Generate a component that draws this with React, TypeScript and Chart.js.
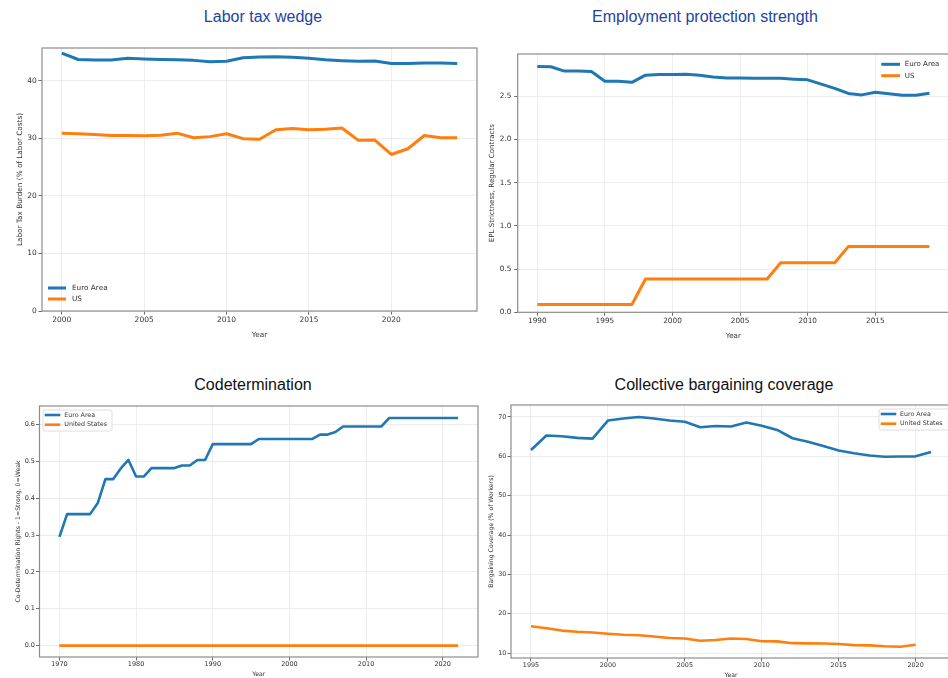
import React, { useEffect, useRef } from "react";
import { Chart, registerables } from "chart.js";

Chart.register(...registerables);

const BLUE = "#1f77b4";
const ORANGE = "#ff7f0e";

// ---------- Panel 1: Labor tax wedge ----------
const taxYears = [2000, 2001, 2002, 2003, 2004, 2005, 2006, 2007, 2008, 2009, 2010, 2011, 2012, 2013, 2014, 2015, 2016, 2017, 2018, 2019, 2020, 2021, 2022, 2023, 2024];
const taxEuro = [44.8, 43.7, 43.6, 43.6, 43.9, 43.8, 43.7, 43.65, 43.55, 43.3, 43.4, 44.0, 44.15, 44.2, 44.1, 43.9, 43.65, 43.5, 43.4, 43.45, 43.0, 43.0, 43.1, 43.1, 43.0];
const taxUS = [30.9, 30.8, 30.65, 30.5, 30.5, 30.45, 30.55, 30.9, 30.1, 30.3, 30.8, 29.95, 29.85, 31.5, 31.7, 31.5, 31.6, 31.8, 29.65, 29.7, 27.2, 28.2, 30.5, 30.1, 30.1];
const taxXTicks = [2000, 2005, 2010, 2015, 2020];
const taxYTicks = [0, 10, 20, 30, 40];

// ---------- Panel 2: Employment protection strength ----------
const eplYears = [1990, 1991, 1992, 1993, 1994, 1995, 1996, 1997, 1998, 1999, 2000, 2001, 2002, 2003, 2004, 2005, 2006, 2007, 2008, 2009, 2010, 2011, 2012, 2013, 2014, 2015, 2016, 2017, 2018, 2019];
const eplEuro = [2.843, 2.84, 2.79, 2.792, 2.785, 2.672, 2.672, 2.66, 2.743, 2.752, 2.752, 2.755, 2.742, 2.722, 2.71, 2.71, 2.707, 2.707, 2.707, 2.697, 2.689, 2.64, 2.59, 2.532, 2.515, 2.546, 2.528, 2.512, 2.512, 2.535];
const eplUS = [0.09, 0.09, 0.09, 0.09, 0.09, 0.09, 0.09, 0.09, 0.385, 0.385, 0.385, 0.385, 0.385, 0.385, 0.385, 0.385, 0.385, 0.385, 0.574, 0.574, 0.574, 0.574, 0.574, 0.76, 0.76, 0.76, 0.76, 0.76, 0.76, 0.76];
const eplXTicks = [1990, 1995, 2000, 2005, 2010, 2015];
const eplYTicks = [0, 0.5, 1.0, 1.5, 2.0, 2.5];

// ---------- Panel 3: Codetermination ----------
const codYears = [1970, 1971, 1972, 1973, 1974, 1975, 1976, 1977, 1978, 1979, 1980, 1981, 1982, 1983, 1984, 1985, 1986, 1987, 1988, 1989, 1990, 1991, 1992, 1993, 1994, 1995, 1996, 1997, 1998, 1999, 2000, 2001, 2002, 2003, 2004, 2005, 2006, 2007, 2008, 2009, 2010, 2011, 2012, 2013, 2014, 2015, 2016, 2017, 2018, 2019, 2020, 2021, 2022];
const codEuro = [0.295, 0.357, 0.357, 0.357, 0.357, 0.387, 0.452, 0.452, 0.481, 0.504, 0.459, 0.459, 0.482, 0.482, 0.482, 0.482, 0.489, 0.489, 0.504, 0.504, 0.547, 0.547, 0.547, 0.547, 0.547, 0.547, 0.561, 0.561, 0.561, 0.561, 0.561, 0.561, 0.561, 0.561, 0.573, 0.573, 0.58, 0.595, 0.595, 0.595, 0.595, 0.595, 0.595, 0.618, 0.618, 0.618, 0.618, 0.618, 0.618, 0.618, 0.618, 0.618, 0.618];
const codUS = [0, 0, 0, 0, 0, 0, 0, 0, 0, 0, 0, 0, 0, 0, 0, 0, 0, 0, 0, 0, 0, 0, 0, 0, 0, 0, 0, 0, 0, 0, 0, 0, 0, 0, 0, 0, 0, 0, 0, 0, 0, 0, 0, 0, 0, 0, 0, 0, 0, 0, 0, 0, 0];
const codXTicks = [1970, 1980, 1990, 2000, 2010, 2020];
const codYTicks = [0, 0.1, 0.2, 0.3, 0.4, 0.5, 0.6];

// ---------- Panel 4: Collective bargaining coverage ----------
const cbYears = [1995, 1996, 1997, 1998, 1999, 2000, 2001, 2002, 2003, 2004, 2005, 2006, 2007, 2008, 2009, 2010, 2011, 2012, 2013, 2014, 2015, 2016, 2017, 2018, 2019, 2020, 2021];
const cbEuro = [61.6, 65.3, 65.1, 64.7, 64.5, 69.1, 69.6, 70.0, 69.6, 69.1, 68.8, 67.4, 67.7, 67.6, 68.6, 67.8, 66.7, 64.6, 63.7, 62.6, 61.5, 60.8, 60.2, 59.9, 59.95, 60.0, 61.1];
const cbUSYears = [1995, 1996, 1997, 1998, 1999, 2000, 2001, 2002, 2003, 2004, 2005, 2006, 2007, 2008, 2009, 2010, 2011, 2012, 2013, 2014, 2015, 2016, 2017, 2018, 2019, 2020];
const cbUS = [16.8, 16.3, 15.7, 15.4, 15.2, 14.9, 14.65, 14.5, 14.2, 13.8, 13.7, 13.1, 13.3, 13.7, 13.55, 13.0, 12.95, 12.5, 12.45, 12.4, 12.3, 12.0, 11.95, 11.7, 11.6, 12.1];
const cbXTicks = [1995, 2000, 2005, 2010, 2015, 2020];
const cbYTicks = [10, 20, 30, 40, 50, 60, 70];

type Box = { left: number; top: number; width: number; height: number };
type Area = { left: number; top: number; right: number; bottom: number };
type Series = { label: string; xs: number[]; ys: number[]; color: string };
type LegendSpec = {
  x1: number; x2: number; ys: number[]; textX: number; font: number;
  frame?: { x: number; y: number; w: number; h: number };
};
type PanelSpec = {
  title: string; titleColor: string; titleCenter: number; titleTop: number;
  canvas: Box; area: Area;
  xMin: number; xMax: number; yMin: number; yMax: number;
  xTicks: number[]; yTicks: number[]; yFmt: (v: number) => string;
  yTitle: string; yTitleX: number; xTitleY: number;
  tickFont: number; axisFont: number; xTickPad: number; yTickPad: number;
  lineWidth: number; series: Series[]; legend: LegendSpec;
};

const FONT = "'DejaVu Sans', sans-serif";
const TICK_LEN = 3.5;

function Panel({ spec }: { spec: PanelSpec }) {
  const ref = useRef<HTMLCanvasElement | null>(null);
  useEffect(() => {
    const s = spec;
    const c = s.canvas;
    const yWidth = s.area.left - c.left;
    const xHeight = c.top + c.height - s.area.bottom;
    const axisLH = s.axisFont * 1.2;

    const framePlugin = {
      id: "frame",
      afterDatasetsDraw(chart: any) {
        const { ctx, chartArea: a } = chart;
        ctx.save();
        ctx.strokeStyle = "#8c8c8c";
        ctx.lineWidth = 1.2;
        ctx.strokeRect(a.left, a.top, a.right - a.left, a.bottom - a.top);
        ctx.restore();
      },
    };
    const legendPlugin = {
      id: "mplLegend",
      afterDraw(chart: any) {
        const ctx = chart.ctx;
        const L = s.legend;
        ctx.save();
        if (L.frame) {
          ctx.beginPath();
          ctx.roundRect(L.frame.x - c.left, L.frame.y - c.top, L.frame.w, L.frame.h, 2);
          ctx.fillStyle = "rgba(255,255,255,0.8)";
          ctx.fill();
          ctx.strokeStyle = "#d6d6d6";
          ctx.lineWidth = 0.8;
          ctx.stroke();
        }
        chart.data.datasets.forEach((ds: any, i: number) => {
          const y = L.ys[i] - c.top;
          ctx.beginPath();
          ctx.moveTo(L.x1 - c.left, y);
          ctx.lineTo(L.x2 - c.left, y);
          ctx.strokeStyle = ds.borderColor;
          ctx.lineWidth = s.lineWidth;
          ctx.lineCap = "butt";
          ctx.stroke();
          ctx.fillStyle = "#333333";
          ctx.font = `${L.font}px ${FONT}`;
          ctx.textBaseline = "middle";
          ctx.textAlign = "left";
          ctx.fillText(ds.label, L.textX - c.left, y);
        });
        ctx.restore();
      },
    };

    const chart = new Chart(ref.current as HTMLCanvasElement, {
      type: "line",
      data: {
        datasets: s.series.map((se) => ({
          label: se.label,
          data: se.xs.map((x, i) => ({ x, y: se.ys[i] })),
          borderColor: se.color,
          backgroundColor: se.color,
          borderWidth: s.lineWidth,
          pointRadius: 0,
          tension: 0,
          fill: false,
          borderJoinStyle: "round",
        })),
      },
      options: {
        animation: false,
        responsive: false,
        maintainAspectRatio: false,
        events: [],
        layout: {
          padding: {
            left: 0,
            top: s.area.top - c.top,
            right: c.left + c.width - s.area.right,
            bottom: 0,
          },
        },
        plugins: {
          legend: { display: false },
          title: { display: false },
          tooltip: { enabled: false },
        },
        scales: {
          x: {
            type: "linear",
            min: s.xMin,
            max: s.xMax,
            afterBuildTicks: (scale: any) => {
              scale.ticks = s.xTicks.map((v) => ({ value: v }));
            },
            afterFit: (scale: any) => {
              scale.height = xHeight;
            },
            grid: { color: "#e8e8e8", lineWidth: 0.8, tickLength: TICK_LEN, tickColor: "#444", drawTicks: true },
            border: { display: false },
            ticks: {
              autoSkip: false,
              maxRotation: 0,
              padding: s.xTickPad,
              color: "#333",
              font: { family: FONT, size: s.tickFont },
              callback: (v: any) => String(v),
            },
            title: {
              display: true,
              text: "Year",
              color: "#333",
              font: { family: FONT, size: s.axisFont },
              padding: { top: 0, bottom: c.top + c.height - s.xTitleY - axisLH / 2 },
            },
          },
          y: {
            type: "linear",
            min: s.yMin,
            max: s.yMax,
            afterBuildTicks: (scale: any) => {
              scale.ticks = s.yTicks.map((v) => ({ value: v }));
            },
            afterFit: (scale: any) => {
              scale.width = yWidth;
            },
            grid: { color: "#e8e8e8", lineWidth: 0.8, tickLength: TICK_LEN, tickColor: "#444", drawTicks: true },
            border: { display: false },
            ticks: {
              autoSkip: false,
              padding: s.yTickPad,
              color: "#333",
              font: { family: FONT, size: s.tickFont },
              callback: (v: any) => s.yFmt(Number(v)),
            },
            title: {
              display: true,
              text: s.yTitle,
              color: "#333",
              font: { family: FONT, size: s.axisFont },
              padding: { top: s.yTitleX - c.left - axisLH / 2, bottom: 0 },
            },
          },
        },
      } as any,
      plugins: [framePlugin, legendPlugin],
    });
    return () => chart.destroy();
  }, [spec]);

  return (
    <>
      <div
        style={{
          position: "absolute",
          left: spec.titleCenter - 200,
          top: spec.titleTop,
          width: 400,
          textAlign: "center",
          fontFamily: "'Liberation Sans', Arial, sans-serif",
          fontSize: 16,
          lineHeight: "16px",
          color: spec.titleColor,
          whiteSpace: "nowrap",
        }}
      >
        {spec.title}
      </div>
      <canvas
        ref={ref}
        width={spec.canvas.width}
        height={spec.canvas.height}
        style={{
          position: "absolute",
          left: spec.canvas.left,
          top: spec.canvas.top,
          width: spec.canvas.width,
          height: spec.canvas.height,
        }}
      />
    </>
  );
}

const fmtInt = (v: number) => String(Math.round(v));
const fmt1 = (v: number) => v.toFixed(1);

const panels: PanelSpec[] = [
  {
    title: "Labor tax wedge", titleColor: "#1c44a6", titleCenter: 263, titleTop: 8.5,
    canvas: { left: 0, top: 40, width: 480, height: 305 },
    area: { left: 42, top: 48, right: 477, bottom: 311 },
    xMin: 1998.8, xMax: 2025.2, yMin: 0, yMax: 45.7,
    xTicks: taxXTicks, yTicks: taxYTicks, yFmt: fmtInt,
    yTitle: "Labor Tax Burden (% of Labor Costs)", yTitleX: 20, xTitleY: 335,
    tickFont: 7.5, axisFont: 7.3, xTickPad: 1, yTickPad: 1.8, lineWidth: 3,
    series: [
      { label: "Euro Area", xs: taxYears, ys: taxEuro, color: BLUE },
      { label: "US", xs: taxYears, ys: taxUS, color: ORANGE },
    ],
    legend: { x1: 48, x2: 66, ys: [288, 299], textX: 72, font: 7.3 },
  },
  {
    title: "Employment protection strength", titleColor: "#1c44a6", titleCenter: 705, titleTop: 8.5,
    canvas: { left: 480, top: 40, width: 470, height: 306 },
    area: { left: 517.7, top: 54, right: 949, bottom: 312.3 },
    xMin: 1988.55, xMax: 2020.45, yMin: 0, yMax: 2.988,
    xTicks: eplXTicks, yTicks: eplYTicks, yFmt: fmt1,
    yTitle: "EPL Strictness, Regular Contracts", yTitleX: 492.3, xTitleY: 336,
    tickFont: 7.3, axisFont: 7.1, xTickPad: 0.8, yTickPad: 2.9, lineWidth: 3,
    series: [
      { label: "Euro Area", xs: eplYears, ys: eplEuro, color: BLUE },
      { label: "US", xs: eplYears, ys: eplUS, color: ORANGE },
    ],
    legend: { x1: 881.3, x2: 900, ys: [64.3, 75.7], textX: 904.7, font: 7.1 },
  },
  {
    title: "Codetermination", titleColor: "#111111", titleCenter: 253, titleTop: 376.5,
    canvas: { left: 0, top: 395, width: 480, height: 283 },
    area: { left: 39.5, top: 406, right: 478, bottom: 657 },
    xMin: 1967.4, xMax: 2024.6, yMin: -0.031, yMax: 0.6506,
    xTicks: codXTicks, yTicks: codYTicks, yFmt: fmt1,
    yTitle: "Co-Determination Rights - 1=Strong, 0=Weak", yTitleX: 18, xTitleY: 674,
    tickFont: 6.5, axisFont: 6.2, xTickPad: 0.3, yTickPad: 1, lineWidth: 2.6,
    series: [
      { label: "Euro Area", xs: codYears, ys: codEuro, color: BLUE },
      { label: "United States", xs: codYears, ys: codUS, color: ORANGE },
    ],
    legend: { x1: 44.7, x2: 60.3, ys: [415, 424.7], textX: 64.3, font: 6.3, frame: { x: 43, y: 410, w: 69, h: 21 } },
  },
  {
    title: "Collective bargaining coverage", titleColor: "#111111", titleCenter: 724, titleTop: 376.5,
    canvas: { left: 480, top: 395, width: 472, height: 283 },
    area: { left: 511, top: 405, right: 951, bottom: 658 },
    xMin: 1993.7, xMax: 2022.3, yMin: 8.73, yMax: 73.05,
    xTicks: cbXTicks, yTicks: cbYTicks, yFmt: fmtInt,
    yTitle: "Bargaining Coverage (% of Workers)", yTitleX: 491, xTitleY: 675,
    tickFont: 6.4, axisFont: 6.2, xTickPad: 0.4, yTickPad: 1.2, lineWidth: 2.6,
    series: [
      { label: "Euro Area", xs: cbYears, ys: cbEuro, color: BLUE },
      { label: "United States", xs: cbUSYears, ys: cbUS, color: ORANGE },
    ],
    legend: { x1: 880.7, x2: 896.3, ys: [414, 423.7], textX: 900, font: 6.3, frame: { x: 879, y: 409, w: 72, h: 21 } },
  },
];

export default function App() {
  return (
    <div
      style={{
        position: "absolute",
        left: 0,
        top: 0,
        width: 948,
        height: 678,
        overflow: "hidden",
        background: "#ffffff",
      }}
    >
      {panels.map((p) => (
        <Panel key={p.title} spec={p} />
      ))}
    </div>
  );
}
